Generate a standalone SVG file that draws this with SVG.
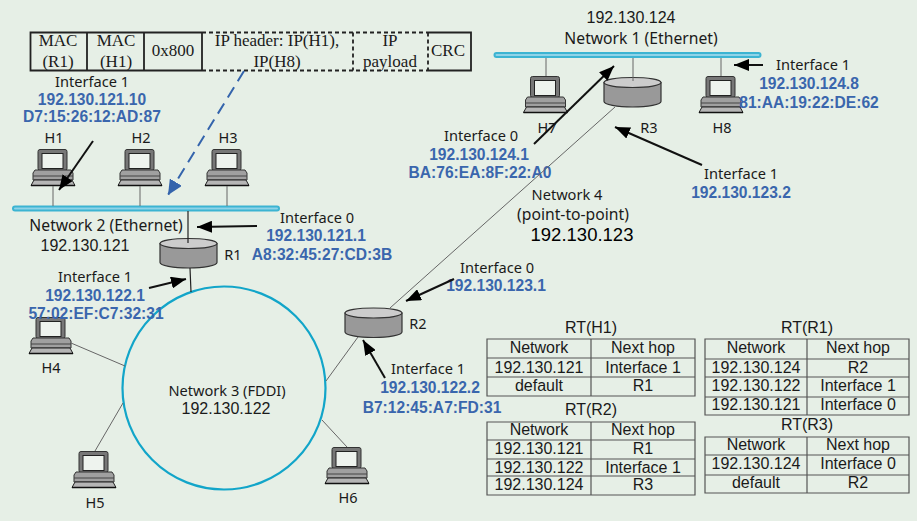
<svg xmlns="http://www.w3.org/2000/svg" xmlns:xlink="http://www.w3.org/1999/xlink" width="917" height="521" viewBox="0 0 917 521">
<style>
text{font-family:"Liberation Sans",Arial,sans-serif;fill:#1a1a1a;text-anchor:middle;font-size:16px}
.n{font-family:"Noto Sans","Liberation Sans",sans-serif;font-size:14.600px}
.w{font-family:"Noto Sans","Liberation Sans",sans-serif;font-size:15.700px}
.h{font-family:"Noto Sans","Liberation Sans",sans-serif;font-size:14.500px}
.b{fill:#3a66ad;font-weight:bold;font-size:15.600px}
.s{font-family:"Liberation Serif",serif;font-size:17px}
.big{fill:#000;font-size:18.500px}
.lk{stroke:#666;stroke-width:1;fill:none}
.lk2{stroke:#222;stroke-width:1.200;fill:none}
.ar{stroke:#111;stroke-width:2;fill:none;marker-end:url(#ah)}
.arb{stroke:#3464ac;stroke-width:2;fill:none;stroke-dasharray:12 7;marker-end:url(#ahb)}
.bar{fill:#8fd3e8;stroke:#3cb4d2;stroke-width:2}
.ring{fill:none;stroke:#12a5c9;stroke-width:2.200}
.fr{fill:none;stroke:#222;stroke-width:1.800}
.da{fill:none;stroke:#222;stroke-width:1.800;stroke-dasharray:4 3}
.t{fill:none;stroke:#555;stroke-width:1.200}
</style>
<defs>
<marker id="ah" markerUnits="userSpaceOnUse" markerWidth="16" markerHeight="12" refX="15" refY="6" orient="auto"><path d="M0 0L15 6L0 12Z" fill="#000"/></marker>
<marker id="ahb" markerUnits="userSpaceOnUse" markerWidth="16" markerHeight="14" refX="15" refY="7" orient="auto"><path d="M0 0L15 7L0 14Z" fill="#3464ac"/></marker>
<g id="host">
<rect x="-15" y="0.500" width="29" height="21" rx="2" fill="#777" stroke="#333"/>
<rect x="-11" y="4.500" width="21" height="15" fill="#eef3ee" stroke="#222"/>
<path d="M-18 21H18L20 24V31H-20V24Z" fill="#a0a0a0" stroke="#333"/>
<path d="M-20 27H20" stroke="#444" fill="none"/>
<path d="M-19 31H19L22 36.500H-22Z" fill="#b5b5b5" stroke="#222"/>
<path d="M-22 36.500H22" stroke="#111" stroke-width="1.500" fill="none"/>
</g>
<g id="router">
<path d="M0 5V24C0 27 13 29.500 28.500 29.500S57 27 57 24V5Z" fill="#999" stroke="#333" stroke-width="1.200"/>
<ellipse cx="28.500" cy="5" rx="28.500" ry="5" fill="#ccc" stroke="#333" stroke-width="1.200"/>
</g>
</defs>
<rect width="917" height="521" fill="#e6efe6"/>
<g id="frame">
<path class="fr" d="M202 32.500H30.500V70.500H202M87 32.500V70.500M144 32.500V70.500M202 32.500V70.500"/>
<path class="da" d="M202 32.500H428M202 70.500H428M353 32.500V70.500M428 32.500V70.500"/>
<path class="fr" d="M428 32.500H471V70.500H428"/>
<text class="s" x="58" y="46">MAC</text><text class="s" x="58" y="67">(R1)</text>
<text class="s" x="116" y="46">MAC</text><text class="s" x="116" y="67">(H1)</text>
<text class="s" x="173" y="56">0x800</text>
<text class="s" x="277" y="46">IP header: IP(H1),</text><text class="s" x="277" y="67">IP(H8)</text>
<text class="s" x="390" y="46">IP</text><text class="s" x="390" y="67">payload</text>
<text class="s" x="448" y="56">CRC</text>
</g>
<g id="network2">
<rect class="bar" x="13" y="206.500" width="266" height="4" rx="2"/>
<text class="w" x="106" y="231">Network 2 (Ethernet)</text>
<text x="85" y="251">192.130.121</text>
</g>
<g id="network1">
<rect class="bar" x="494.500" y="53" width="266" height="4" rx="2"/>
<text x="631" y="23">192.130.124</text>
<text class="w" x="641" y="44">Network 1 (Ethernet)</text>
</g>
<g id="network3">
<circle class="ring" cx="224" cy="388" r="101.500"/>
<text class="n" x="227" y="396">Network 3 (FDDI)</text>
<text x="226" y="414">192.130.122</text>
</g>
<g id="network4">
<text class="n" x="567" y="200">Network 4</text>
<text class="w" x="573" y="220">(point-to-point)</text>
<text class="big" x="582" y="241">192.130.123</text>
</g>
<g id="H1"><use xlink:href="#host" href="#host" x="53" y="149"/><text class="h" x="54" y="143">H1</text>
<text class="n" x="92" y="87">Interface 1</text><text class="b" x="92" y="105">192.130.121.10</text><text class="b" x="92" y="122">D7:15:26:12:AD:87</text></g>
<g id="H2"><use xlink:href="#host" href="#host" x="140" y="149"/><text class="h" x="141" y="143">H2</text></g>
<g id="H3"><use xlink:href="#host" href="#host" x="227" y="149"/><text class="h" x="228" y="143">H3</text></g>
<g id="H4"><use xlink:href="#host" href="#host" x="51" y="317"/><text class="h" x="51" y="373">H4</text></g>
<g id="H5"><use xlink:href="#host" href="#host" x="94" y="451"/><text class="h" x="95" y="508">H5</text></g>
<g id="H6"><use xlink:href="#host" href="#host" x="347" y="447"/><text class="h" x="348" y="503">H6</text></g>
<g id="H7"><use xlink:href="#host" href="#host" x="545.500" y="76"/><text class="h" x="547" y="133">H7</text></g>
<g id="H8"><use xlink:href="#host" href="#host" x="721" y="76"/><text class="h" x="722" y="133">H8</text>
<text class="n" x="813" y="70">Interface 1</text><text class="b" x="809" y="89">192.130.124.8</text><text class="b" x="809" y="108">81:AA:19:22:DE:62</text></g>
<g id="R1"><use xlink:href="#router" href="#router" x="160" y="238.500"/><text class="h" x="233" y="260">R1</text>
<text class="n" x="317" y="223">Interface 0</text><text class="b" x="316" y="241">192.130.121.1</text><text class="b" x="322" y="260">A8:32:45:27:CD:3B</text>
<text class="n" x="95" y="282">Interface 1</text><text class="b" x="95" y="301">192.130.122.1</text><text class="b" x="96" y="319">57:02:EF:C7:32:31</text></g>
<g id="R2"><use xlink:href="#router" href="#router" x="345" y="308"/><text class="h" x="418" y="329">R2</text>
<text class="n" x="497" y="273">Interface 0</text><text class="b" x="496" y="291">192.130.123.1</text>
<text class="n" x="428" y="374">Interface 1</text><text class="b" x="430" y="393">192.130.122.2</text><text class="b" x="432" y="413">B7:12:45:A7:FD:31</text></g>
<g id="R3"><use xlink:href="#router" href="#router" x="604" y="77.500"/><text class="h" x="649" y="133">R3</text>
<text class="n" x="481" y="141">Interface 0</text><text class="b" x="479" y="160">192.130.124.1</text><text class="b" x="480" y="178">BA:76:EA:8F:22:A0</text>
<text class="n" x="741" y="179">Interface 1</text><text class="b" x="741" y="198">192.130.123.2</text></g>
<g id="connectors">
<path class="lk" d="M53 186V206M140 186V206M227 186V206M546 58V76M633 58V81M721 58V76"/>
<path class="lk2" d="M188 211V243M190 268L191 292"/>
<path class="lk" d="M71 343L125 366M123 403L95 451M322 420L347 447M326 381L358 337M390 308L615 107"/>
<path class="ar" d="M93 141L59 190"/>
<path class="arb" d="M244 71L168 195"/>
<path class="ar" d="M257 226L197 227"/>
<path class="ar" d="M149 288L186 279"/>
<path class="ar" d="M454 279L406 301"/>
<path class="ar" d="M385 378L363 340"/>
<path class="ar" d="M534 144L614 66"/>
<path class="ar" d="M702 165L615 127"/>
<path class="ar" d="M763 65L734 65"/>
</g>
<g id="rt-h1">
<text x="591" y="333">RT(H1)</text>
<path class="t" d="M487 339H695V396H487ZM487 358H695M487 377H695M591 339V396"/>
<text x="539" y="353">Network</text><text x="643" y="353">Next hop</text>
<text x="539" y="373">192.130.121</text><text x="643" y="373">Interface 1</text>
<text x="539" y="391">default</text><text x="643" y="391">R1</text>
</g>
<g id="rt-r2">
<text x="591" y="415">RT(R2)</text>
<path class="t" d="M487 422H695V495H487ZM487 440H695M487 459H695M487 476H695M591 422V495"/>
<text x="539" y="435">Network</text><text x="643" y="435">Next hop</text>
<text x="539" y="454">192.130.121</text><text x="643" y="454">R1</text>
<text x="539" y="473">192.130.122</text><text x="643" y="473">Interface 1</text>
<text x="539" y="490">192.130.124</text><text x="643" y="490">R3</text>
</g>
<g id="rt-r1">
<text x="807" y="333">RT(R1)</text>
<path class="t" d="M705 339H909V415H705ZM705 359H909M705 377H909M705 397H909M807 339V415"/>
<text x="756" y="353">Network</text><text x="858" y="353">Next hop</text>
<text x="756" y="373">192.130.124</text><text x="858" y="373">R2</text>
<text x="756" y="391">192.130.122</text><text x="858" y="391">Interface 1</text>
<text x="756" y="410">192.130.121</text><text x="858" y="410">Interface 0</text>
</g>
<g id="rt-r3">
<text x="807" y="430">RT(R3)</text>
<path class="t" d="M705 437H909V493H705ZM705 455H909M705 475H909M807 437V493"/>
<text x="756" y="450">Network</text><text x="858" y="450">Next hop</text>
<text x="756" y="469">192.130.124</text><text x="858" y="469">Interface 0</text>
<text x="756" y="488">default</text><text x="858" y="488">R2</text>
</g>
</svg>
